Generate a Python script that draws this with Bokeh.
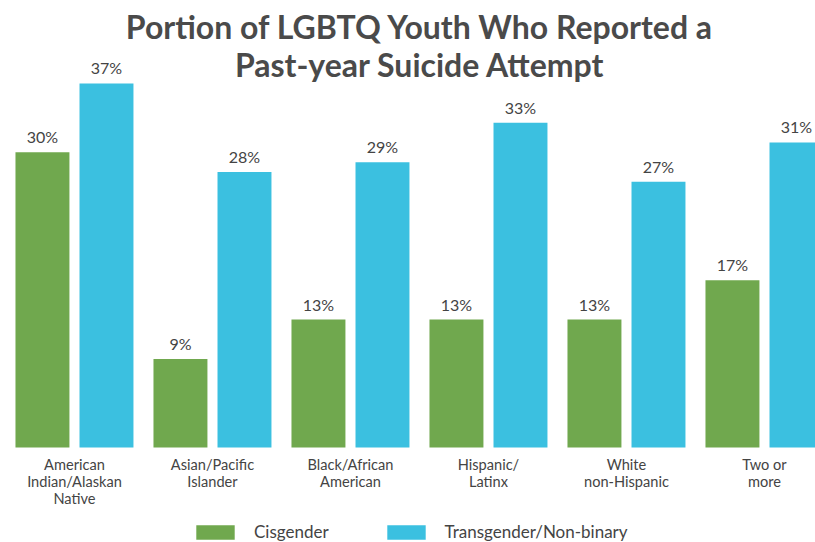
import numpy as np
from bokeh.plotting import figure
from bokeh.models import (ColumnDataSource, Range1d, Legend, LegendItem,
                          Label, LabelSet)
from bokeh.core.properties import value
from bokeh.transform import dodge
from bokeh.embed import file_html
from bokeh.resources import INLINE

title_lines = ["Portion of LGBTQ Youth Who Reported a", "Past-year Suicide Attempt"]
categories = ["American\nIndian/Alaskan\nNative", "Asian/Pacific\nIslander",
              "Black/African\nAmerican", "Hispanic/\nLatinx",
              "White\nnon-Hispanic", "Two or\nmore"]
series_names = ["Cisgender", "Transgender/Non-binary"]
cisgender = [30, 9, 13, 13, 13, 17]
transgender = [37, 28, 29, 33, 27, 31]

GREEN = "#70a84e"
CYAN = "#3bc0e0"
TEXT = "#444444"
FONT = "Lato"

PX = 9.84            # pixels per percentage point
W, H = 815, 542
BASE = 447           # pixel row of the bars' baseline
YMAX = BASE / PX
YMIN = -(H - BASE) / PX

xpos = np.arange(len(categories)) + 0.5
cat_lines = [c.split("\n") for c in categories]
n_lines = max(len(l) for l in cat_lines)
data = dict(
    x=xpos, cis=cisgender, trans=transgender, zero=[0] * len(categories),
    cis_lbl=[f"{v}%" for v in cisgender],
    trans_lbl=[f"{v}%" for v in transgender],
)
for k in range(n_lines):
    data[f"cat{k}"] = [l[k] if len(l) > k else "" for l in cat_lines]
src = ColumnDataSource(data)

p = figure(frame_width=W, frame_height=H, output_backend="svg",
           toolbar_location=None,
           x_range=Range1d(-0.036, -0.036 + W / 138), y_range=Range1d(YMIN, YMAX),
           min_border=0, x_axis_location=None, y_axis_location=None)
p.outline_line_color = None
p.grid.grid_line_color = None
p.background_fill_color = "white"
p.border_fill_color = "white"

off = 0.232
bw = 0.391
r1 = p.vbar(x=dodge("x", -off), top="cis", width=bw, source=src,
            fill_color=GREEN, line_color=None)
r2 = p.vbar(x=dodge("x", off), top="trans", width=bw, source=src,
            fill_color=CYAN, line_color=None)

for col, lbl, d in (("cis", "cis_lbl", -off), ("trans", "trans_lbl", off)):
    p.add_layout(LabelSet(x=dodge("x", d), y=col, text=lbl, source=src,
                          text_align="center", text_baseline="alphabetic",
                          y_offset=9, text_font=value(FONT), text_font_size="16px",
                          text_color=TEXT))

# category labels under the bars, one centred line at a time
for k in range(n_lines):
    p.add_layout(LabelSet(x="x", y="zero", text=f"cat{k}", source=src,
                          text_align="center", text_baseline="alphabetic",
                          y_offset=-(22 + 17.4 * k),
                          text_font=value(FONT), text_font_size="14.6px",
                          text_color=TEXT))

legend = Legend(items=[LegendItem(label=series_names[0], renderers=[r1]),
                       LegendItem(label=series_names[1], renderers=[r2])],
                orientation="horizontal", location=(191, 0),
                glyph_width=48, glyph_height=18, label_height=18,
                label_standoff=15, spacing=53, padding=0, margin=0,
                border_line_color=None, background_fill_alpha=0,
                label_text_font=FONT, label_text_font_size="17px",
                label_text_color=TEXT)
p.add_layout(legend, "center")

for i, t in enumerate(title_lines):
    p.add_layout(Label(x=3.004, y=(BASE - (26 + 38 * i)) / PX, text=t,
                       text_align="center", text_baseline="alphabetic",
                       text_font=FONT, text_font_style="bold",
                       text_font_size="32px", text_color="#4a4a4a"))

open("out.html", "w").write(file_html(p, INLINE))
